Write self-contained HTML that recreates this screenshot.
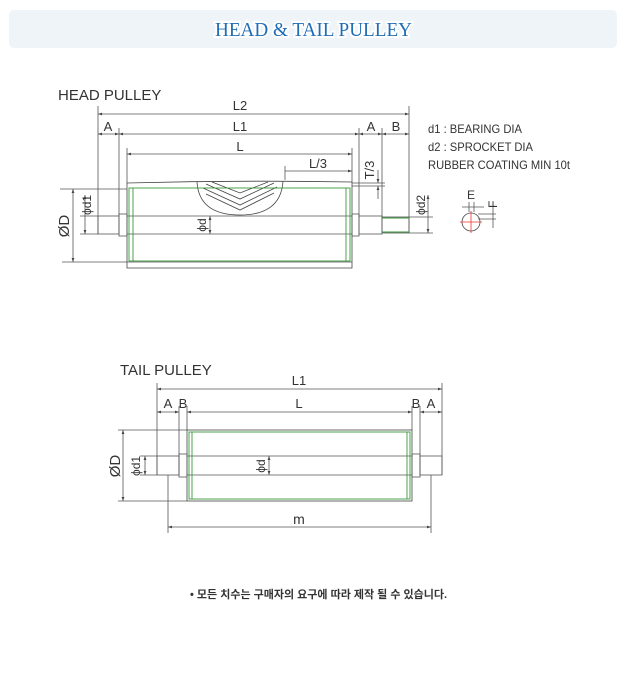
<!DOCTYPE html>
<html><head><meta charset="utf-8"><style>
html,body{margin:0;padding:0;background:#fff;}
svg{display:block;}
.t{font-family:"Liberation Sans",sans-serif;fill:#333;}
</style></head><body>
<svg width="630" height="693" viewBox="0 0 630 693" xmlns="http://www.w3.org/2000/svg">
<defs>
<marker id="a" viewBox="0 0 10 10" refX="10" refY="5" markerWidth="5" markerHeight="5" orient="auto-start-reverse"><path d="M0,1.5L10,5L0,8.5z" fill="#444"/></marker>
</defs>
<rect x="9" y="10" width="608" height="38" rx="5" fill="#eff4f9"/>
<text x="215" y="36" textLength="197" lengthAdjust="spacingAndGlyphs" font-family="Liberation Serif,serif" font-size="20" fill="#1f6db5" stroke="#fff" stroke-width="4" paint-order="stroke">HEAD &amp; TAIL PULLEY</text>

<g stroke="#555" stroke-width="0.8" fill="none">
<line x1="98" y1="114" x2="409" y2="114" marker-start="url(#a)" marker-end="url(#a)"/>
<line x1="98" y1="106" x2="98" y2="234"/><line x1="409" y1="106" x2="409" y2="233"/>
<line x1="98" y1="134" x2="119" y2="134" marker-start="url(#a)" marker-end="url(#a)"/>
<line x1="119" y1="134" x2="359" y2="134" marker-start="url(#a)" marker-end="url(#a)"/>
<line x1="359" y1="134" x2="382" y2="134" marker-start="url(#a)" marker-end="url(#a)"/>
<line x1="382" y1="134" x2="409" y2="134" marker-start="url(#a)" marker-end="url(#a)"/>
<line x1="119" y1="128" x2="119" y2="216"/><line x1="359" y1="128" x2="359" y2="216"/><line x1="382" y1="128" x2="382" y2="217"/>
<line x1="127" y1="154" x2="352" y2="154" marker-start="url(#a)" marker-end="url(#a)"/>
<line x1="127" y1="148" x2="127" y2="183"/><line x1="352" y1="148" x2="352" y2="182"/>
<line x1="285" y1="171" x2="352" y2="171" marker-end="url(#a)"/>
<line x1="285" y1="166" x2="285" y2="180"/>
<path d="M127,186 L127,183 Q240,180 352,182 L352,268 L127,268 Z" stroke="#444"/>
<line x1="352" y1="183" x2="385" y2="183"/><line x1="352" y1="186" x2="385" y2="186"/>
<line x1="378" y1="170" x2="378" y2="183" marker-end="url(#a)"/><line x1="378" y1="199" x2="378" y2="186" marker-end="url(#a)"/>
<line x1="127" y1="262" x2="352" y2="262"/>
<rect x="98" y="216" width="21" height="18"/><rect x="119" y="214" width="8" height="22"/>
<rect x="352" y="214" width="7" height="22"/><rect x="359" y="216" width="23" height="18"/><rect x="382" y="217" width="27" height="16"/>
<line x1="127" y1="216" x2="352" y2="216"/><line x1="127" y1="234" x2="352" y2="234"/>
<path d="M197,182 Q199,215 240,215 Q281,215 283,181" stroke="#444"/>
<path d="M212,182 L240,193 L268,182 M206,184 L240,199 L274,183 M203,188 L240,205 L277,187 M206,194 L240,210 L274,193" stroke="#444"/>
<line x1="60" y1="189" x2="127" y2="189"/><line x1="62" y1="262" x2="127" y2="262"/>
<line x1="73" y1="189" x2="73" y2="262" marker-start="url(#a)" marker-end="url(#a)"/>
<line x1="85" y1="195" x2="85" y2="234" marker-start="url(#a)" marker-end="url(#a)"/>
<line x1="80" y1="216" x2="98" y2="216"/><line x1="80" y1="234" x2="98" y2="234"/>
<line x1="210" y1="216" x2="210" y2="234" marker-start="url(#a)" marker-end="url(#a)"/>
<line x1="428" y1="195" x2="428" y2="233" marker-start="url(#a)" marker-end="url(#a)"/>
<line x1="409" y1="217" x2="433" y2="217"/><line x1="409" y1="233" x2="433" y2="233"/>
<circle cx="471" cy="222" r="9" stroke="#444"/>
<line x1="462" y1="207" x2="484" y2="207"/><line x1="469" y1="202" x2="469" y2="212"/><line x1="474" y1="202" x2="474" y2="212"/>
<line x1="478" y1="214" x2="496" y2="214"/><line x1="478" y1="219" x2="496" y2="219"/><line x1="493" y1="205" x2="493" y2="228"/>
</g>
<g stroke="#3a9a3a" stroke-width="0.9" fill="none">
<rect x="129" y="188" width="221" height="73"/>
<line x1="133" y1="188" x2="133" y2="261"/><line x1="346" y1="188" x2="346" y2="261"/>
<line x1="382" y1="218" x2="409" y2="218"/><line x1="382" y1="232" x2="409" y2="232"/>
</g>
<g stroke="#ee3333" stroke-width="0.8"><line x1="460" y1="222" x2="482" y2="222"/><line x1="471" y1="211" x2="471" y2="233"/></g>

<g class="t" font-size="13">
<text x="58" y="100" font-size="15">HEAD PULLEY</text>
<text x="240" y="110" text-anchor="middle">L2</text>
<text x="108" y="131" text-anchor="middle">A</text>
<text x="240" y="131" text-anchor="middle">L1</text>
<text x="371" y="131" text-anchor="middle">A</text>
<text x="396" y="131" text-anchor="middle">B</text>
<text x="240" y="151" text-anchor="middle">L</text>
<text x="318" y="168" text-anchor="middle">L/3</text>
<text x="428" y="133" font-size="12" textLength="94" lengthAdjust="spacingAndGlyphs">d1 : BEARING DIA</text>
<text x="428" y="151" font-size="12" textLength="105" lengthAdjust="spacingAndGlyphs">d2 : SPROCKET DIA</text>
<text x="428" y="169" font-size="12" textLength="142" lengthAdjust="spacingAndGlyphs">RUBBER COATING MIN 10t</text>
<text x="471" y="199" text-anchor="middle" font-size="12">E</text>
<text transform="translate(497,208) rotate(-90)" font-size="12">F</text>
<text transform="translate(374,170) rotate(-90)" text-anchor="middle">T/3</text>
<text transform="translate(69,226) rotate(-90)" text-anchor="middle" font-size="15">ØD</text>
<text transform="translate(91,205) rotate(-90)" text-anchor="middle" font-size="12">ϕd1</text>
<text transform="translate(206,225) rotate(-90)" text-anchor="middle" font-size="12">ϕd</text>
<text transform="translate(425,205) rotate(-90)" text-anchor="middle" font-size="12">ϕd2</text>
</g>

<g stroke="#555" stroke-width="0.8" fill="none">
<line x1="157" y1="389" x2="442" y2="389" marker-start="url(#a)" marker-end="url(#a)"/>
<line x1="157" y1="383" x2="157" y2="475"/><line x1="442" y1="383" x2="442" y2="475"/>
<line x1="157" y1="412" x2="179" y2="412" marker-start="url(#a)" marker-end="url(#a)"/>
<line x1="187" y1="412" x2="412" y2="412" marker-start="url(#a)" marker-end="url(#a)"/>
<line x1="420" y1="412" x2="442" y2="412" marker-start="url(#a)" marker-end="url(#a)"/>
<line x1="179" y1="406" x2="179" y2="475"/><line x1="187" y1="406" x2="187" y2="430"/>
<line x1="412" y1="406" x2="412" y2="430"/><line x1="420" y1="406" x2="420" y2="475"/>
<rect x="187" y="430" width="225" height="71" stroke="#444"/>
<rect x="157" y="456" width="22" height="19"/><rect x="179" y="454" width="8" height="23"/>
<rect x="412" y="454" width="8" height="23"/><rect x="420" y="456" width="22" height="19"/>
<line x1="187" y1="456" x2="412" y2="456"/><line x1="187" y1="475" x2="412" y2="475"/>
<line x1="118" y1="430" x2="187" y2="430"/><line x1="118" y1="501" x2="187" y2="501"/>
<line x1="123" y1="430" x2="123" y2="501" marker-start="url(#a)" marker-end="url(#a)"/>
<line x1="140" y1="456" x2="157" y2="456"/><line x1="140" y1="475" x2="157" y2="475"/>
<line x1="145" y1="456" x2="145" y2="475" marker-start="url(#a)" marker-end="url(#a)"/>
<line x1="269" y1="456" x2="269" y2="475" marker-start="url(#a)" marker-end="url(#a)"/>
<line x1="168" y1="475" x2="168" y2="533"/><line x1="431" y1="475" x2="431" y2="533"/>
<line x1="168" y1="527" x2="431" y2="527" marker-start="url(#a)" marker-end="url(#a)"/>
</g>
<g stroke="#3a9a3a" stroke-width="0.9" fill="none">
<rect x="189" y="432" width="221" height="67"/>
<line x1="192" y1="432" x2="192" y2="499"/><line x1="407" y1="432" x2="407" y2="499"/>
</g>
<g class="t" font-size="13">
<text x="120" y="375" font-size="15">TAIL PULLEY</text>
<text x="299" y="385" text-anchor="middle">L1</text>
<text x="168" y="408" text-anchor="middle">A</text>
<text x="183" y="408" text-anchor="middle">B</text>
<text x="299" y="408" text-anchor="middle">L</text>
<text x="416" y="408" text-anchor="middle">B</text>
<text x="431" y="408" text-anchor="middle">A</text>
<text x="299" y="524" text-anchor="middle" font-size="14">m</text>
<text transform="translate(120,466) rotate(-90)" text-anchor="middle" font-size="15">ØD</text>
<text transform="translate(140,466) rotate(-90)" text-anchor="middle" font-size="12">ϕd1</text>
<text transform="translate(265,466) rotate(-90)" text-anchor="middle" font-size="12">ϕd</text>
</g>
<text x="190" y="598" font-family="Liberation Sans,'Noto Sans CJK KR',sans-serif" font-size="11" font-weight="bold" fill="#333">• 모든 치수는 구매자의 요구에 따라 제작 될 수 있습니다.</text>
</svg>
</body></html>
